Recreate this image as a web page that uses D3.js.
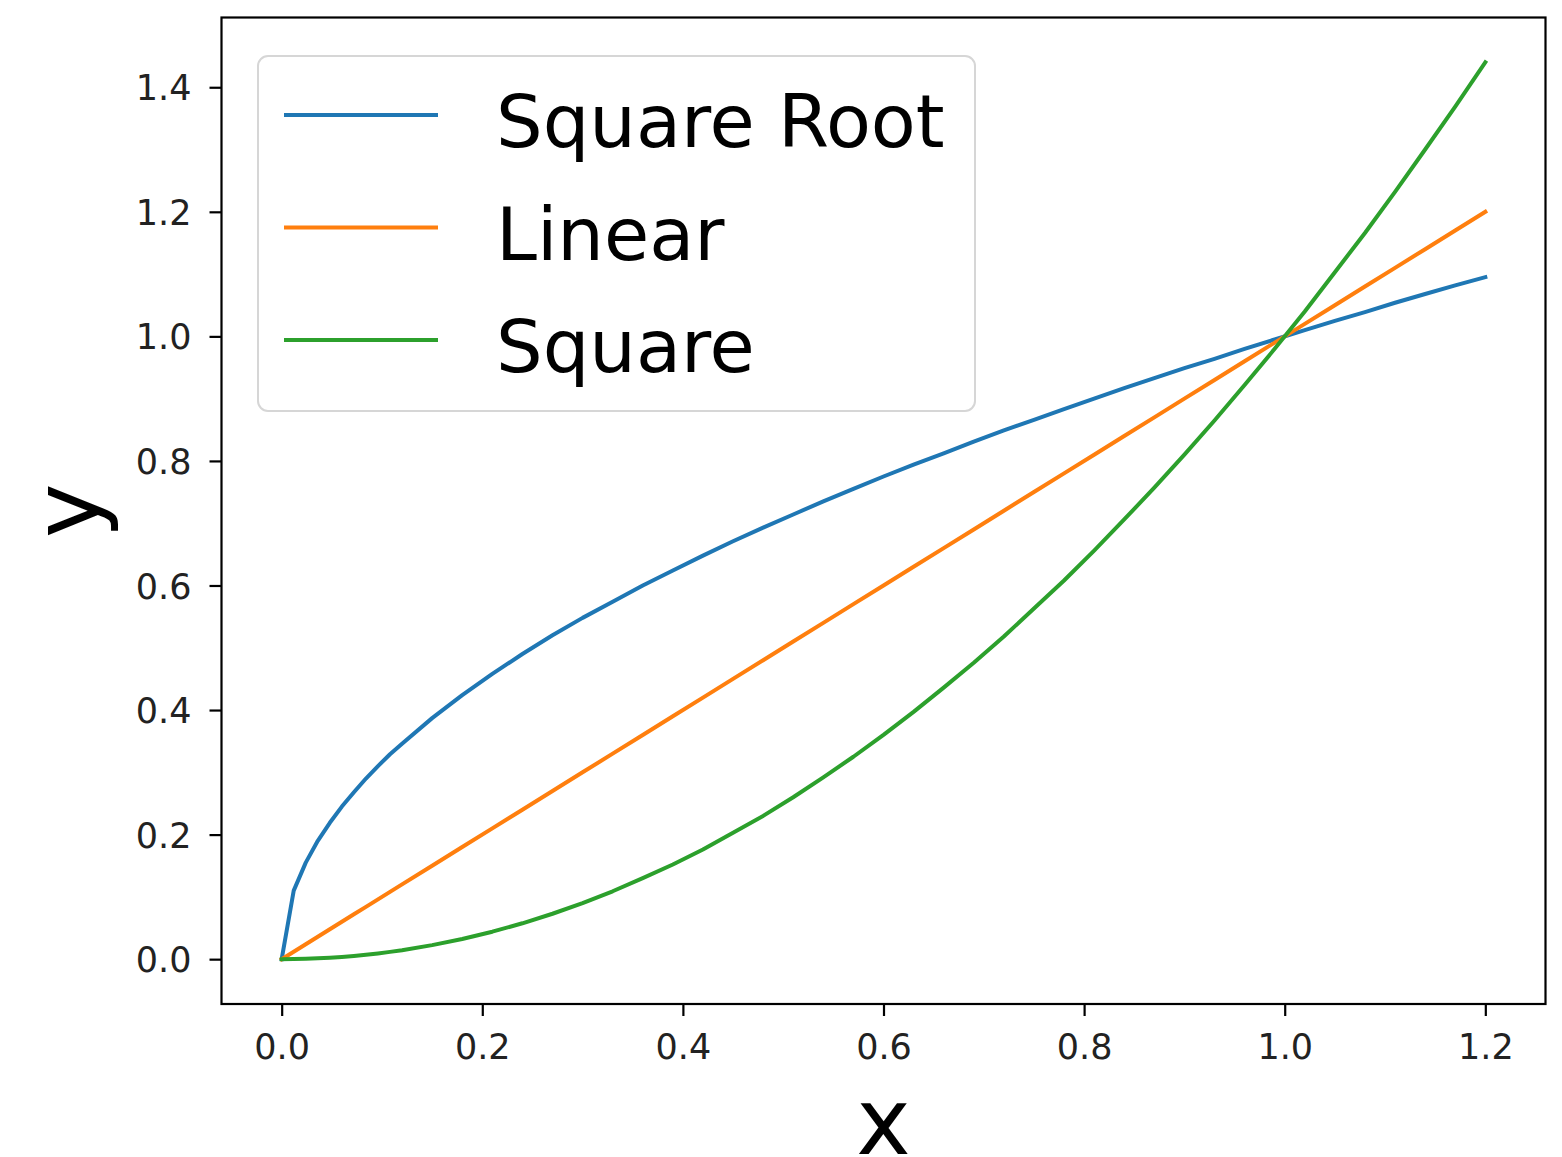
<!DOCTYPE html>
<html>
<head>
<meta charset="utf-8">
<script src="https://cdn.jsdelivr.net/npm/d3@7"></script>
<style>
  html, body { margin: 0; padding: 0; background: #fff; }
  svg { display: block; font-family: "DejaVu Sans", sans-serif; }
</style>
</head>
<body>
<svg id="chart" width="1562" height="1157"></svg>
<script>
// values
const xValues = [0, 0.012, 0.024, 0.036, 0.048, 0.06, 0.072, 0.084, 0.096, 0.108, 0.12,
  0.15, 0.18, 0.21, 0.24, 0.27, 0.30, 0.33, 0.36, 0.39, 0.42, 0.45, 0.48, 0.51, 0.54, 0.57, 0.60,
  0.63, 0.66, 0.69, 0.72, 0.75, 0.78, 0.81, 0.84, 0.87, 0.90, 0.93, 0.96, 0.99, 1.02, 1.05, 1.08,
  1.11, 1.14, 1.17, 1.20];
const sqrtValues = [0, 0.110, 0.155, 0.190, 0.219, 0.245, 0.268, 0.290, 0.310, 0.329, 0.346,
  0.387, 0.424, 0.458, 0.490, 0.520, 0.548, 0.574, 0.600, 0.624, 0.648, 0.671, 0.693, 0.714, 0.735, 0.755, 0.775,
  0.794, 0.812, 0.831, 0.849, 0.866, 0.883, 0.900, 0.917, 0.933, 0.949, 0.964, 0.980, 0.995, 1.010, 1.025, 1.039,
  1.054, 1.068, 1.082, 1.095];
const linearValues = [0, 0.012, 0.024, 0.036, 0.048, 0.06, 0.072, 0.084, 0.096, 0.108, 0.12,
  0.15, 0.18, 0.21, 0.24, 0.27, 0.30, 0.33, 0.36, 0.39, 0.42, 0.45, 0.48, 0.51, 0.54, 0.57, 0.60,
  0.63, 0.66, 0.69, 0.72, 0.75, 0.78, 0.81, 0.84, 0.87, 0.90, 0.93, 0.96, 0.99, 1.02, 1.05, 1.08,
  1.11, 1.14, 1.17, 1.20];
const squareValues = [0, 0.0001, 0.0006, 0.0013, 0.0023, 0.0036, 0.0052, 0.0071, 0.0092, 0.0117, 0.0144,
  0.0225, 0.0324, 0.0441, 0.0576, 0.0729, 0.090, 0.109, 0.130, 0.152, 0.176, 0.203, 0.230, 0.260, 0.292, 0.325, 0.360,
  0.397, 0.436, 0.476, 0.518, 0.563, 0.608, 0.656, 0.706, 0.757, 0.810, 0.865, 0.922, 0.980, 1.040, 1.103, 1.166,
  1.232, 1.300, 1.369, 1.440];
const seriesNames = ["Square Root", "Linear", "Square"];
const seriesColors = ["#1f77b4", "#ff7f0e", "#2ca02c"];
const xTicks = [0, 0.2, 0.4, 0.6, 0.8, 1.0, 1.2];
const yTicks = [0, 0.2, 0.4, 0.6, 0.8, 1.0, 1.2, 1.4];

const plot = {left: 221.5, right: 1545.5, top: 17.5, bottom: 1004};

const svg = d3.select("#chart");

const x = d3.scaleLinear().domain([-0.06, 1.26]).range([plot.left, plot.right]);
const y = d3.scaleLinear().domain([-0.072, 1.512]).range([plot.bottom, plot.top]);

// lines
const allSeries = [sqrtValues, linearValues, squareValues];
const line = d3.line()
  .x((d) => x(d[0]))
  .y((d) => y(d[1]));

svg.append("g").attr("class", "lines")
  .selectAll("path")
  .data(allSeries)
  .enter().append("path")
    .attr("d", (vals) => line(vals.map((v, i) => [xValues[i], v])))
    .attr("fill", "none")
    .attr("stroke", (d, i) => seriesColors[i])
    .attr("stroke-width", 4)
    .attr("stroke-linejoin", "round")
    .attr("stroke-linecap", "square");

// axes
const xAxis = svg.append("g")
  .attr("transform", "translate(0," + plot.bottom + ")")
  .call(d3.axisBottom(x).tickValues(xTicks).tickFormat(d3.format(".1f")).tickSize(12).tickPadding(18));
const yAxis = svg.append("g")
  .attr("transform", "translate(" + plot.left + ",0)")
  .call(d3.axisLeft(y).tickValues(yTicks).tickFormat(d3.format(".1f")).tickSize(12).tickPadding(18));

[xAxis, yAxis].forEach((ax) => {
  ax.select(".domain").remove();
  ax.selectAll(".tick line").attr("stroke", "#000").attr("stroke-width", 2.2);
  ax.selectAll(".tick text")
    .attr("fill", "#222")
    .style("font-family", "DejaVu Sans")
    .style("font-size", "35px");
});
yAxis.selectAll(".tick text").attr("dy", "0.36em");

// frame
svg.append("rect")
  .attr("x", plot.left)
  .attr("y", plot.top)
  .attr("width", plot.right - plot.left)
  .attr("height", plot.bottom - plot.top)
  .attr("fill", "none")
  .attr("stroke", "#000")
  .attr("stroke-width", 2.2);

// axis labels
svg.append("text")
  .attr("x", (plot.left + plot.right) / 2)
  .attr("y", 1154)
  .attr("text-anchor", "middle")
  .style("font-size", "92px")
  .text("x");

svg.append("text")
  .attr("transform", "translate(99," + (plot.top + plot.bottom) / 2 + ") rotate(-90)")
  .attr("text-anchor", "middle")
  .style("font-size", "92px")
  .text("y");

// legend
const legend = svg.append("g").attr("class", "legend");
legend.append("rect")
  .attr("x", 258)
  .attr("y", 56)
  .attr("width", 717)
  .attr("height", 355)
  .attr("rx", 10)
  .attr("fill", "#fff")
  .attr("fill-opacity", 0.8)
  .attr("stroke", "#d6d6d6")
  .attr("stroke-width", 2);

const rowY = [115, 227.5, 340];
seriesNames.forEach((name, i) => {
  legend.append("line")
    .attr("x1", 284).attr("x2", 438)
    .attr("y1", rowY[i]).attr("y2", rowY[i])
    .attr("stroke", seriesColors[i])
    .attr("stroke-width", 4);
  legend.append("text")
    .attr("x", 496)
    .attr("y", rowY[i] + 32)
    .style("font-size", "73.5px")
    .attr("fill", "#000")
    .text(name);
});
</script>
</body>
</html>
